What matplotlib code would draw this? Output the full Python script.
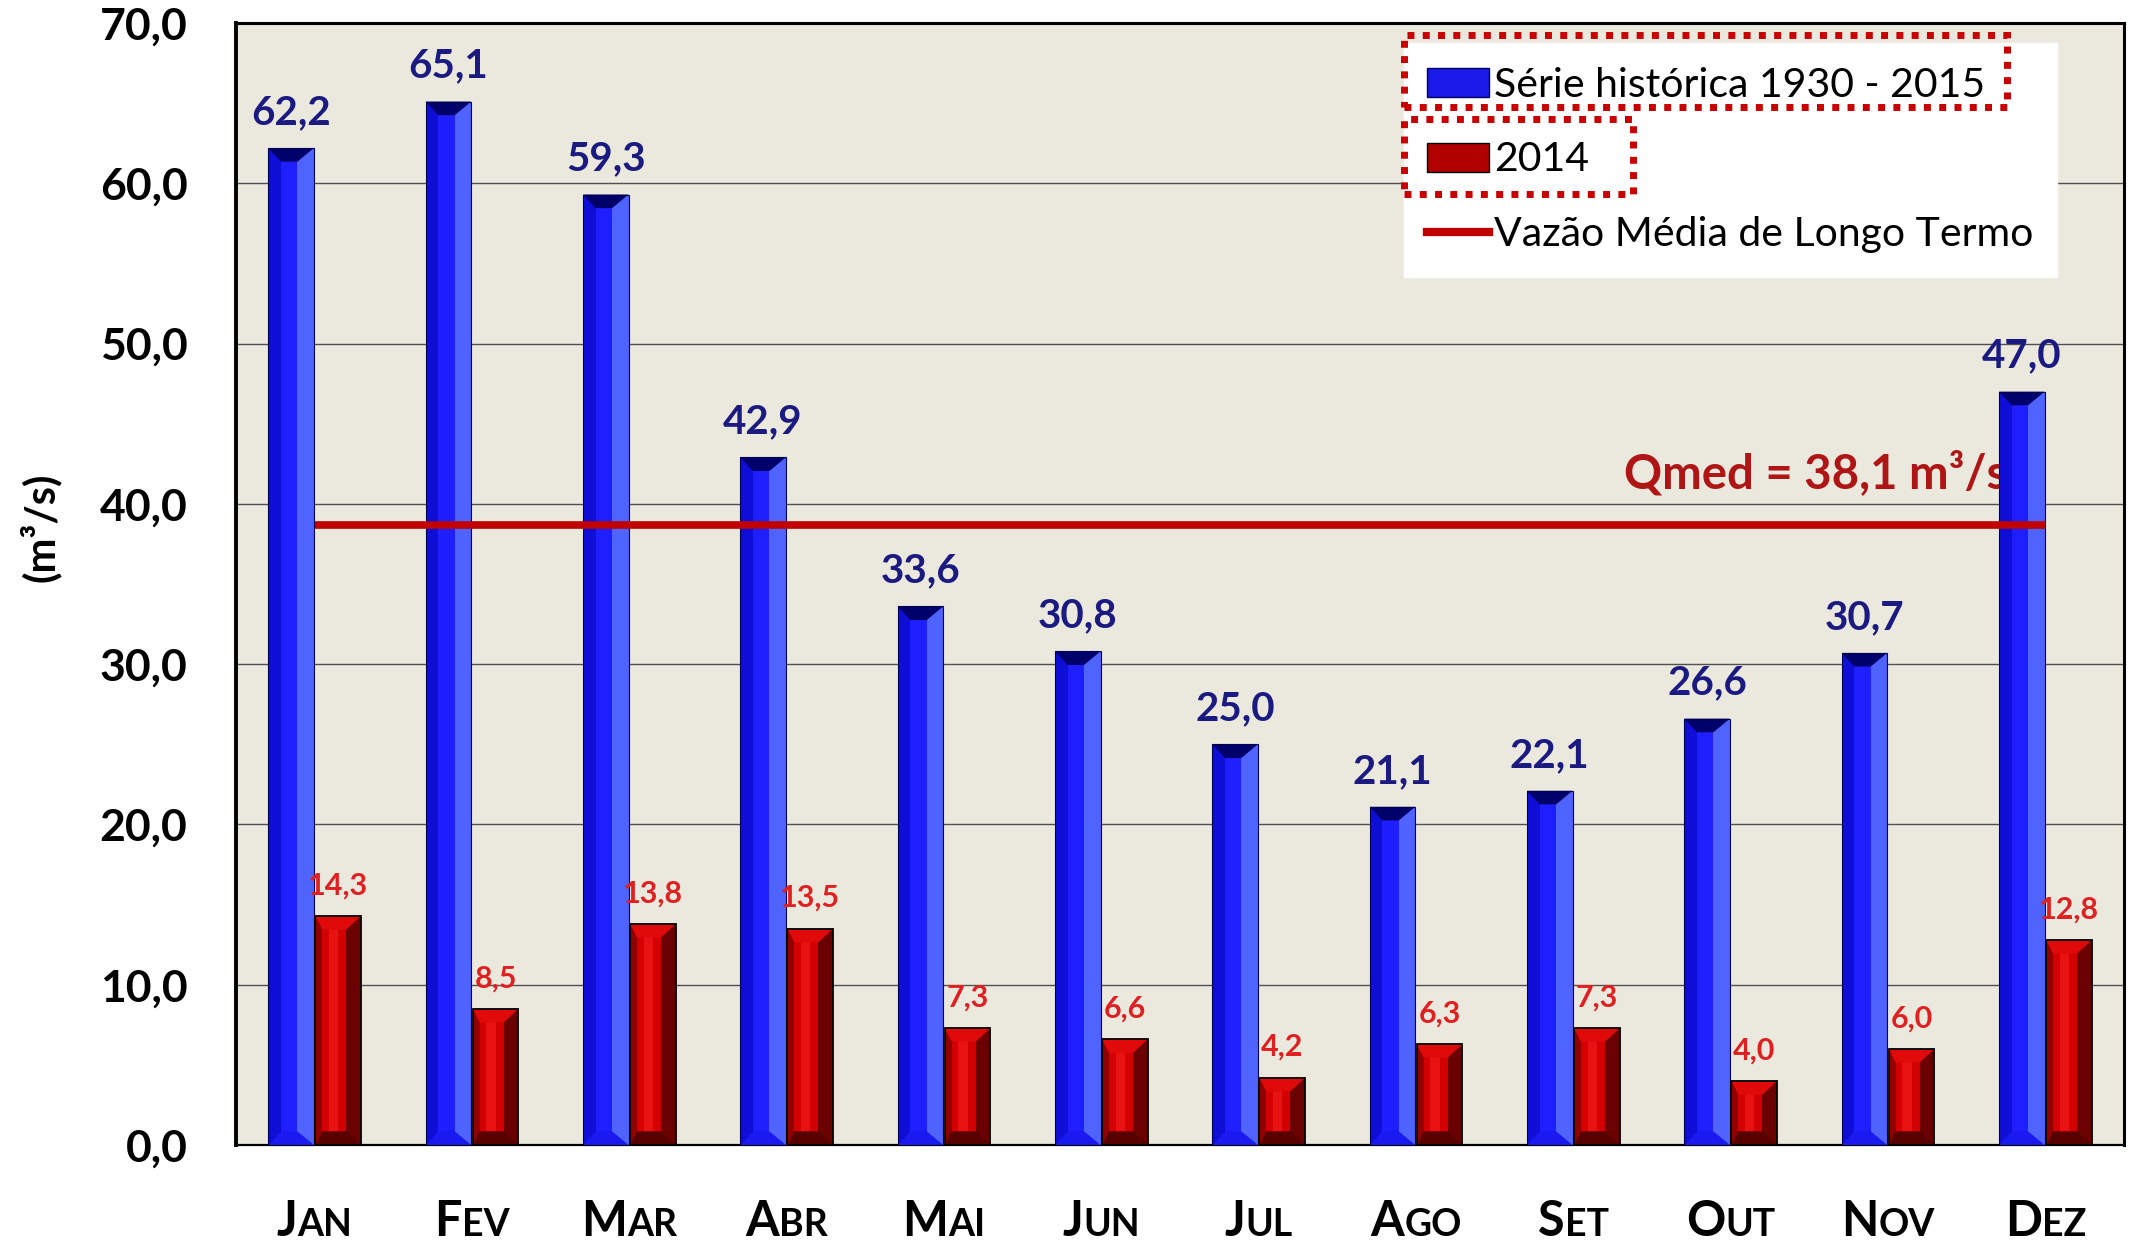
import numpy as np
import matplotlib
matplotlib.use('Agg')
import matplotlib.pyplot as plt
from matplotlib.patches import Polygon, Rectangle, Patch
from matplotlib.lines import Line2D
import matplotlib.transforms as mtransforms

# ---------------- data ----------------
months = ['Jan', 'Fev', 'Mar', 'Abr', 'Mai', 'Jun', 'Jul', 'Ago', 'Set', 'Out', 'Nov', 'Dez']
serie_historica = [62.2, 65.1, 59.3, 42.9, 33.6, 30.8, 25.0, 21.1, 22.1, 26.6, 30.7, 47.0]
ano_2014 = [14.3, 8.5, 13.8, 13.5, 7.3, 6.6, 4.2, 6.3, 7.3, 4.0, 6.0, 12.8]
qmed_value = 38.1      # label value
qmed_drawn = 38.7      # level of the line as drawn in the picture
yticks = [0, 10, 20, 30, 40, 50, 60, 70]
ytick_labels = ['0,0', '10,0', '20,0', '30,0', '40,0', '50,0', '60,0', '70,0']
legend_labels = ['Série histórica 1930 - 2015', '2014', 'Vazão Média de Longo Termo']
ylabel = '(m³/s)'

plt.rcParams['font.family'] = ['Lato', 'DejaVu Sans']

W, H = 2136, 1245
fig = plt.figure(figsize=(W / 100, H / 100), dpi=100)
fig.patch.set_facecolor('white')
ax = fig.add_axes([236 / W, (H - 1145) / H, (2124 - 236) / W, (1145 - 23) / H])
ax.set_facecolor('#EBE8DE')

x = np.arange(len(months))
bw = 0.29
b1 = ax.bar(x - 0.15, serie_historica, bw, color='#1414E6', linewidth=0, zorder=3)
b2 = ax.bar(x + 0.15, ano_2014, bw, color='#C80000', linewidth=0, zorder=3)

d = 0.85  # bevel depth (data units)
for r in b1.patches:
    x0, w, h = r.get_x(), r.get_width(), r.get_height()
    ax.add_patch(Rectangle((x0, 0), 0.28 * w, h, color='#0E0ED6', lw=0, zorder=3.1))
    ax.add_patch(Rectangle((x0 + 0.28 * w, 0), 0.36 * w, h, color='#1E1EFF', lw=0, zorder=3.1))
    ax.add_patch(Rectangle((x0 + 0.64 * w, 0), 0.36 * w, h, color='#4F63FF', lw=0, zorder=3.1))
    ax.add_patch(Polygon([(x0, h), (x0 + w, h), (x0 + 0.64 * w, h - d), (x0 + 0.28 * w, h - d)],
                         closed=True, color='#00006A', lw=0, zorder=3.2))
    ax.add_patch(Polygon([(x0, 0), (x0 + w, 0), (x0 + 0.64 * w, d), (x0 + 0.28 * w, d)],
                         closed=True, color='#1A1AF0', lw=0, zorder=3.2))
    ax.add_patch(Rectangle((x0, 0), w, h, fill=False, edgecolor='#000050', lw=0.8, zorder=3.3))

for r in b2.patches:
    x0, w, h = r.get_x(), r.get_width(), r.get_height()
    ax.add_patch(Rectangle((x0, 0), 0.15 * w, h, color='#900000', lw=0, zorder=3.1))
    ax.add_patch(Rectangle((x0 + 0.15 * w, 0), 0.53 * w, h, color='#D20000', lw=0, zorder=3.1))
    ax.add_patch(Rectangle((x0 + 0.30 * w, 0), 0.2 * w, h, color='#E81212', lw=0, zorder=3.1))
    ax.add_patch(Rectangle((x0 + 0.68 * w, 0), 0.32 * w, h, color='#6A0000', lw=0, zorder=3.1))
    ax.add_patch(Polygon([(x0, h), (x0 + w, h), (x0 + 0.68 * w, h - d), (x0 + 0.15 * w, h - d)],
                         closed=True, color='#E00A0A', lw=0, zorder=3.2))
    ax.add_patch(Polygon([(x0, 0), (x0 + w, 0), (x0 + 0.68 * w, d), (x0 + 0.15 * w, d)],
                         closed=True, color='#580000', lw=0, zorder=3.2))
    ax.add_patch(Rectangle((x0, 0), w, h, fill=False, edgecolor='black', lw=1.3, zorder=3.3))

# value labels
for r, v in zip(b1.patches, serie_historica):
    ax.text(r.get_x() + r.get_width() / 2, v + 1.5, f'{v:.1f}'.replace('.', ','),
            ha='center', va='baseline', fontsize=29, fontweight='bold', color='#1A1A80', zorder=5)
for r, v in zip(b2.patches, ano_2014):
    ax.text(r.get_x() + r.get_width() / 2, v + 1.35, f'{v:.1f}'.replace('.', ','),
            ha='center', va='baseline', fontsize=22, fontweight='bold', color='#E02020', zorder=5)

# long-term mean line
ax.plot([x[0], x[-1]], [qmed_drawn, qmed_drawn], color='#C00000', lw=5.5,
        solid_capstyle='butt', zorder=4)
ax.text(8.32, qmed_drawn + 2.3, f'Qmed = {qmed_value:.1f}'.replace('.', ',') + ' m³/s',
        ha='left', va='baseline', fontsize=34, fontweight='bold', color='#B01515', zorder=2.5)

# axes
ax.set_xlim(-0.5, 11.5)
ax.set_ylim(0, 70)
ax.set_xticks([])
ax.set_yticks(yticks, ytick_labels)
ax.tick_params(axis='y', length=0, pad=35, labelsize=32)
for lbl in ax.get_yticklabels():
    lbl.set_fontweight('bold')
ax.yaxis.grid(True, color='#505050', lw=1.0)
ax.set_axisbelow(True)
for s, lw in (('left', 2.8), ('top', 2.2), ('right', 2.2), ('bottom', 1.6)):
    ax.spines[s].set_linewidth(lw)
    ax.spines[s].set_color('black')

fig.text(40 / W, 1 - 527 / H, ylabel, rotation=90, fontsize=30, fontweight='bold',
         ha='center', va='center')

# legend
handles = [Patch(facecolor='#1A1AE8', edgecolor='#000060', lw=1),
           Patch(facecolor='#B00000', edgecolor='black', lw=1),
           Line2D([], [], color='#C00000', lw=6)]
leg = ax.legend(handles, legend_labels, loc='upper right',
                bbox_to_anchor=(2057 / W, 1 - 43 / H), bbox_transform=fig.transFigure,
                fontsize=29.5, frameon=True, fancybox=False, framealpha=1,
                edgecolor='white', facecolor='white', borderpad=0.58,
                handlelength=1.5, handleheight=0.72, handletextpad=0.12,
                labelspacing=0.92, borderaxespad=0)
leg.set_zorder(6)

# x labels in small caps
trans = mtransforms.blended_transform_factory(ax.transData, fig.transFigure)
base_y = (H - 1236) / H
pairs = []
for i, m in enumerate(months):
    t1 = ax.text(i, base_y, m[0], transform=trans, fontsize=35, fontweight='bold',
                 ha='left', va='baseline')
    t2 = ax.text(i, base_y, m[1:].upper(), transform=trans, fontsize=27, fontweight='bold',
                 ha='left', va='baseline')
    pairs.append((t1, t2))

fig.canvas.draw()
rend = fig.canvas.get_renderer()
for t1, t2 in pairs:
    w1 = t1.get_window_extent(rend).width
    w2 = t2.get_window_extent(rend).width
    off = -(w1 + w2) / 2
    t1.set_transform(trans + mtransforms.ScaledTranslation(off / fig.dpi, 0, fig.dpi_scale_trans))
    t2.set_transform(trans + mtransforms.ScaledTranslation((off + w1) / fig.dpi, 0, fig.dpi_scale_trans))

# dotted highlight boxes around first two legend entries
texts = leg.get_texts()
hnds = leg.legend_handles
box_pads = [(23, 22, 47, 25), (23, 44, 38, 37)]  # left, right, above, below (px)
inv = fig.transFigure.inverted()
for i, (pl, pr, pa, pb) in enumerate(box_pads):
    tb = texts[i].get_window_extent(rend)
    hb = hnds[i].get_window_extent(rend)
    cy = (hb.y0 + hb.y1) / 2
    x0p, x1p = hb.x0 - pl, tb.x1 + pr
    y0p, y1p = cy - pb, cy + pa
    (fx0, fy0), (fx1, fy1) = inv.transform([(x0p, y0p), (x1p, y1p)])
    fig.add_artist(Rectangle((fx0, fy0), fx1 - fx0, fy1 - fy0, transform=fig.transFigure,
                             fill=False, edgecolor='#C80000', lw=5, linestyle=(0, (1, 1.2)),
                             zorder=10))

fig.savefig('out.png', dpi=100)
